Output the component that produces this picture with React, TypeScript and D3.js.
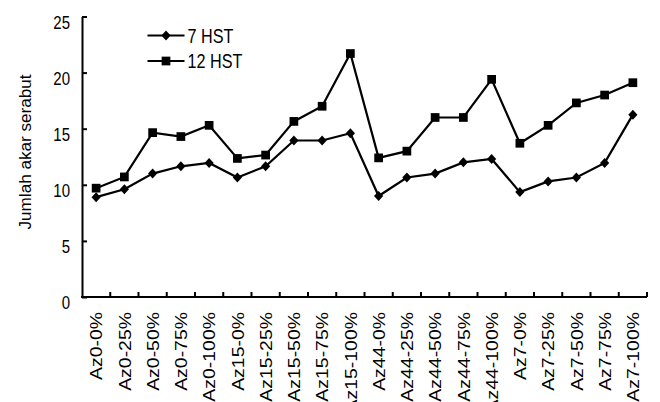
import React, { useRef, useEffect } from 'react';
import * as d3 from 'd3';

const categories = [
  'Az0-0%', 'Az0-25%', 'Az0-50%', 'Az0-75%', 'Az0-100%',
  'Az15-0%', 'Az15-25%', 'Az15-50%', 'Az15-75%', 'Az15-100%',
  'Az44-0%', 'Az44-25%', 'Az44-50%', 'Az44-75%', 'Az44-100%',
  'Az7-0%', 'Az7-25%', 'Az7-50%', 'Az7-75%', 'Az7-100%',
];
const hst7 = [8.9, 9.6, 11.0, 11.65, 11.95, 10.65, 11.65, 13.95, 13.95, 14.6, 9.0, 10.65, 11.0, 12.0, 12.3, 9.35, 10.3, 10.65, 11.95, 16.25];
const hst12 = [9.7, 10.7, 14.65, 14.3, 15.3, 12.35, 12.65, 15.65, 17.0, 21.7, 12.4, 13.0, 16.0, 16.0, 19.4, 13.7, 15.3, 17.3, 18.0, 19.1];
const yTicks = [0, 5, 10, 15, 20, 25];

const FONT = '"Liberation Sans", Arial, sans-serif';

const App: React.FC = () => {
  const svgRef = useRef<SVGSVGElement>(null);

  useEffect(() => {
    if (!svgRef.current) return;
    const width = 660;
    const height = 402;
    const left = 82, right = 647, top = 16.5, bottom = 297;

    const svg = d3.select(svgRef.current)
      .attr('width', width)
      .attr('height', height)
      .style('display', 'block')
      .style('background', '#fff');
    svg.selectAll('*').remove();

    const x = d3.scaleBand<string>().domain(categories).range([left, right]);
    const y = d3.scaleLinear().domain([0, 25]).range([bottom, top]);

    // y axis, ticks pointing inward
    const gy = svg.append('g').attr('transform', `translate(${left},0)`)
      .call(d3.axisLeft(y).tickValues(yTicks).tickSize(-5).tickPadding(12).tickSizeOuter(0));
    gy.select('.domain').attr('stroke', '#000').attr('stroke-width', 2);
    gy.selectAll('line').attr('stroke', '#000').attr('stroke-width', 2);
    gy.selectAll('text')
      .attr('font-family', FONT).attr('font-size', 15).attr('fill', '#000')
      .attr('dy', '0.36em')
      .attr('transform', 'translate(0,5) scale(1,1.22)');

    // x axis with inward ticks at category boundaries
    const boundaries = d3.range(categories.length + 1).map(i => left + i * x.bandwidth());
    svg.append('line')
      .attr('x1', left - 1).attr('x2', right).attr('y1', bottom).attr('y2', bottom)
      .attr('stroke', '#000').attr('stroke-width', 2);
    svg.append('g').selectAll('line').data(boundaries.slice(1)).join('line')
      .attr('x1', d => d).attr('x2', d => d)
      .attr('y1', bottom).attr('y2', bottom - 5)
      .attr('stroke', '#000').attr('stroke-width', 2);

    svg.append('g').selectAll('text').data(categories).join('text')
      .attr('transform', d => `translate(${(x(d) ?? 0) + x.bandwidth() / 2 + 6.2},312) rotate(-90) scale(1.13,1)`)
      .attr('text-anchor', 'end')
      .attr('font-family', FONT).attr('font-size', 17.2).attr('fill', '#000')
      .text(d => d);

    // y label
    svg.append('text')
      .attr('transform', `translate(31,152) rotate(-90) scale(1.07,1)`)
      .attr('text-anchor', 'middle')
      .attr('font-family', FONT).attr('font-size', 16).attr('fill', '#000')
      .text('Jumlah akar serabut');

    const cx = (i: number) => (x(categories[i]) ?? 0) + x.bandwidth() / 2;
    const line = d3.line<number>().x((_, i) => cx(i)).y(d => y(d));

    const diamond = 'M0,-5L4.6,0L0,5L-4.6,0Z';
    const square = d3.symbol().type(d3.symbolSquare).size(76)() as string;

    const series = [
      { name: '7 HST', values: hst7, sym: diamond },
      { name: '12 HST', values: hst12, sym: square },
    ];

    series.forEach(s => {
      svg.append('path').datum(s.values)
        .attr('fill', 'none').attr('stroke', '#000').attr('stroke-width', 2.2)
        .attr('d', line);
      svg.append('g').selectAll('path').data(s.values).join('path')
        .attr('transform', (d, i) => `translate(${cx(i)},${y(d)})`)
        .attr('d', s.sym)
        .attr('fill', '#000');
    });

    // legend
    const legY = [35.5, 61];
    series.forEach((s, i) => {
      const g = svg.append('g').attr('transform', `translate(147.5,${legY[i]})`);
      g.append('line').attr('x1', 0).attr('x2', 37).attr('y1', 0).attr('y2', 0)
        .attr('stroke', '#000').attr('stroke-width', 2.2);
      g.append('path').attr('transform', 'translate(18.5,0)').attr('d', s.sym).attr('fill', '#000');
      g.append('text').attr('x', 40).attr('y', 0).attr('dy', '0.36em')
        .attr('transform', 'scale(1,1.2)')
        .attr('font-family', FONT).attr('font-size', 16.2).attr('fill', '#000')
        .text(s.name);
    });
  }, []);

  return <svg ref={svgRef} style={{ position: 'absolute', left: 0, top: 0 }} />;
};

export default App;
